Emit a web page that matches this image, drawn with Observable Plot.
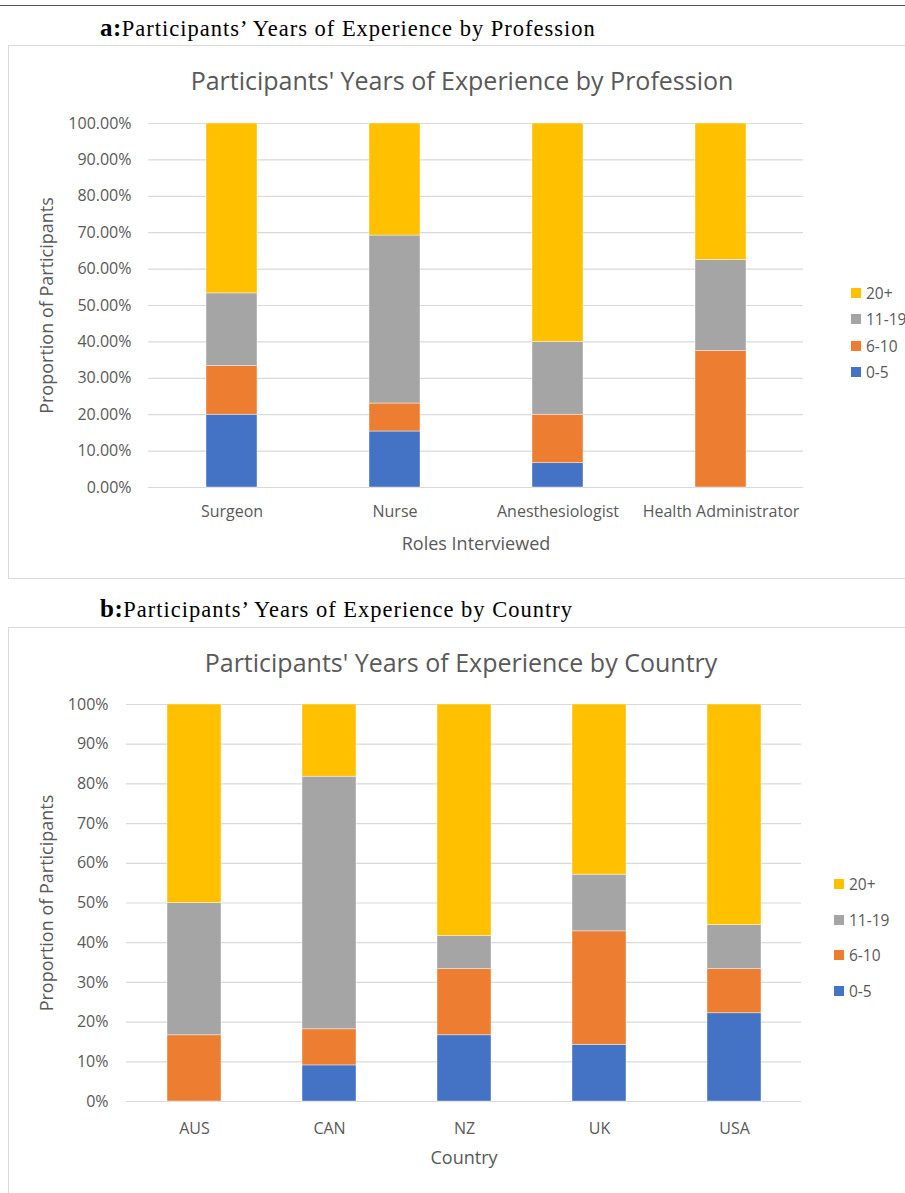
<!DOCTYPE html>
<html>
<head>
<meta charset="utf-8">
<script src="https://cdn.jsdelivr.net/npm/d3@7"></script>
<script src="https://cdn.jsdelivr.net/npm/@observablehq/plot@0.6"></script>
<style>
  html, body { margin: 0; padding: 0; background: #fff; }
  #page { position: relative; width: 905px; height: 1193px; overflow: hidden; background: #fff; }
  .abs { position: absolute; }
  .hdr { font-family: "Liberation Serif", "DejaVu Serif", serif; font-size: 22.5px; letter-spacing: 1px; color: #000; white-space: nowrap; }
  .hdr b { font-size: 25px; letter-spacing: 0.5px; }
  .box { border: 1px solid #d9d9d9; box-sizing: border-box; }
  .ctitle { font-family: "Open Sans", sans-serif; font-size: 25px; color: #595959; white-space: nowrap; transform: translate(-50%, -50%); }
  .leg { font-family: "Open Sans", sans-serif; font-size: 15.5px; color: #595959; white-space: nowrap; display: flex; align-items: center; transform: translateY(-50%); }
  .leg span.sw { display: inline-block; width: 10px; height: 10px; margin-right: 5px; }
  svg { font-family: "Open Sans", sans-serif; }
  svg g[aria-label="x-axis label"], svg g[aria-label="y-axis label"] { font-size: 18px; }
  svg g[aria-label="x-axis tick label"], svg g[aria-label="y-axis tick label"] { font-size: 16px; }
</style>
</head>
<body>
<div id="page"></div>
<script>
// ---- Data ----
const groups = ["0-5", "6-10", "11-19", "20+"];
const groupColors = ["#4472C4", "#ED7D31", "#A5A5A5", "#FFC000"];

const roles = ["Surgeon", "Nurse", "Anesthesiologist", "Health Administrator"];
const role0_5   = [0.2000, 0.1538, 0.0667, 0.0000];
const role6_10  = [0.1333, 0.0769, 0.1333, 0.3750];
const role11_19 = [0.2000, 0.4615, 0.2000, 0.2500];
const role20p   = [0.4667, 0.3078, 0.6000, 0.3750];

const countries = ["AUS", "CAN", "NZ", "UK", "USA"];
const ctry0_5   = [0.0000, 0.0909, 0.1667, 0.1429, 0.2222];
const ctry6_10  = [0.1667, 0.0909, 0.1667, 0.2857, 0.1111];
const ctry11_19 = [0.3333, 0.6364, 0.0833, 0.1428, 0.1111];
const ctry20p   = [0.5000, 0.1818, 0.5833, 0.4286, 0.5556];

const yTicks = [0, 0.1, 0.2, 0.3, 0.4, 0.5, 0.6, 0.7, 0.8, 0.9, 1.0];

function toRows(cats, seriesList) {
  const rows = [];
  cats.forEach((c, i) => {
    seriesList.forEach((s, j) => rows.push({cat: c, group: groups[j], value: s[i]}));
  });
  return rows;
}
const roleRows = toRows(roles, [role0_5, role6_10, role11_19, role20p]);
const ctryRows = toRows(countries, [ctry0_5, ctry6_10, ctry11_19, ctry20p]);

const page = document.getElementById("page");
function el(cls, style, html) {
  const d = document.createElement("div");
  d.className = "abs " + cls;
  Object.assign(d.style, style);
  if (html != null) d.innerHTML = html;
  page.appendChild(d);
  return d;
}

// top rule
el("", {left: "0px", top: "5px", width: "905px", height: "1px", background: "#555"});

function makeChart(cfg) {
  el("hdr", {left: "100px", top: cfg.hdrTop + "px"}, cfg.hdr);
  el("box", {left: "8px", top: cfg.top + "px", width: "910px", height: cfg.boxH + "px"});
  el("ctitle", {left: cfg.titleX + "px", top: cfg.titleY + "px"}, cfg.title);

  const chart = Plot.plot({
    width: 905,
    height: cfg.height,
    marginLeft: cfg.ml,
    marginRight: cfg.mr,
    marginTop: cfg.mt,
    marginBottom: cfg.mb,
    style: {background: "transparent", color: "#595959", fontFamily: "'Open Sans', sans-serif", overflow: "visible"},
    x: {domain: cfg.cats, paddingInner: cfg.pad, paddingOuter: cfg.pad / 2, label: cfg.xLabel},
    y: {domain: [0, 1], label: "Proportion of Participants"},
    color: {domain: groups, range: groupColors},
    marks: [
      Plot.gridY(yTicks, {stroke: "#d9d9d9", strokeOpacity: 1, strokeWidth: 1.2}),
      Plot.barY(cfg.rows, Plot.stackY({order: groups}, {x: "cat", y: "value", fill: "group", z: "group", stroke: "#fff", strokeWidth: 0.6, strokeOpacity: 0.7})),
      Plot.axisY(yTicks, {tickSize: 0, tickPadding: cfg.ytp, tickFormat: cfg.fmt, label: "Proportion of Participants", labelAnchor: "center", labelArrow: "none", labelOffset: cfg.ylo, fill: "#595959"}),
      Plot.axisX({tickSize: 0, tickPadding: cfg.xtp, label: cfg.xLabel, labelAnchor: "center", labelArrow: "none", labelOffset: 62, fill: "#595959"})
    ]
  });
  chart.style.position = "absolute";
  chart.style.left = "0px";
  chart.style.top = cfg.top + "px";
  page.appendChild(chart);

  // legend (top-to-bottom: 20+, 11-19, 6-10, 0-5)
  const order = groups.slice().reverse();
  order.forEach((g, i) => {
    const c = groupColors[groups.indexOf(g)];
    el("leg", {left: cfg.legX + "px", top: (cfg.legY + i * cfg.legStep) + "px"},
      `<span class="sw" style="background:${c}"></span>${g}`);
  });
}

makeChart({
  hdr: "<b>a:</b>Participants’ Years of Experience by Profession",
  hdrTop: 14,
  top: 45, height: 533, boxH: 534,
  title: "Participants' Years of Experience by Profession",
  titleX: 462, titleY: 80,
  ml: 148, mr: 102, mt: 78, mb: 91,
  cats: roles, pad: 0.69, xLabel: "Roles Interviewed",
  rows: roleRows, fmt: d3.format(".2%"), ytp: 17, ylo: 108, xtp: 18,
  legX: 851, legY: 293, legStep: 26.4
});

makeChart({
  hdr: "<b>b:</b>Participants’ Years of Experience by Country",
  hdrTop: 595,
  top: 627, height: 566, boxH: 600,
  title: "Participants' Years of Experience by Country",
  titleX: 461, titleY: 662,
  ml: 126, mr: 104, mt: 77, mb: 92,
  cats: countries, pad: 0.6, xLabel: "Country",
  rows: ctryRows, fmt: d3.format(".0%"), ytp: 18, ylo: 86, xtp: 21,
  legX: 834, legY: 884, legStep: 35.5
});
</script>
</body>
</html>
